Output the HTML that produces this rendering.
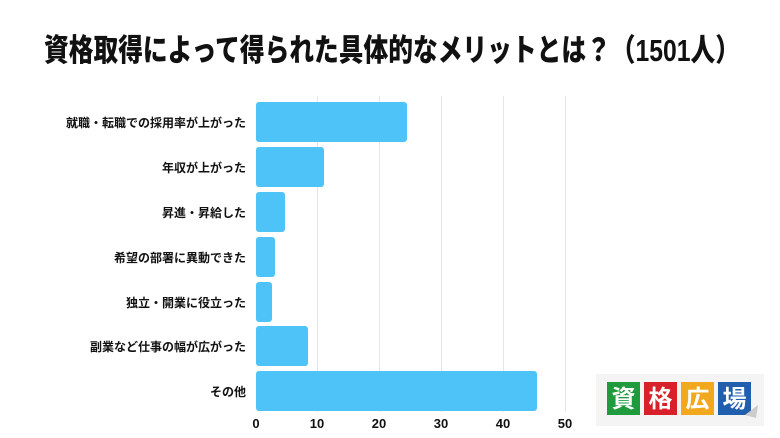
<!DOCTYPE html>
<html><head><meta charset="utf-8"><style>
html,body{margin:0;padding:0;background:#fff;}
body{width:780px;height:438px;overflow:hidden;position:relative;font-family:"Liberation Sans","Noto Sans CJK JP",sans-serif;}
</style></head><body>
<svg width="780" height="438" viewBox="0 0 780 438" xmlns="http://www.w3.org/2000/svg" style="position:absolute;left:0;top:0">
<text x="44" y="61" font-family="Liberation Sans, Noto Sans CJK JP, sans-serif" font-weight="900" font-size="31" fill="#111" textLength="696" lengthAdjust="spacingAndGlyphs">資格取得によって得られた具体的なメリットとは？（1501人）</text>
<g stroke="#e6e6e6" stroke-width="1">
<line x1="317.5" y1="96" x2="317.5" y2="412"/>
<line x1="379.5" y1="96" x2="379.5" y2="412"/>
<line x1="441.5" y1="96" x2="441.5" y2="412"/>
<line x1="503.5" y1="96" x2="503.5" y2="412"/>
<line x1="565.5" y1="96" x2="565.5" y2="412"/>
</g>
<g fill="#4dc3f8">
<rect x="256" y="102" width="151" height="40" rx="3"/>
<rect x="256" y="147" width="68" height="40" rx="3"/>
<rect x="256" y="192" width="29" height="40" rx="3"/>
<rect x="256" y="237" width="19" height="40" rx="3"/>
<rect x="256" y="282" width="16" height="40" rx="3"/>
<rect x="256" y="326" width="52" height="40" rx="3"/>
<rect x="256" y="371" width="281" height="40" rx="3"/>
</g>
<g font-family="Liberation Sans, Noto Sans CJK JP, sans-serif" font-weight="700" font-size="12" fill="#111" text-anchor="end">
<text x="246" y="127">就職・転職での採用率が上がった</text>
<text x="246" y="172">年収が上がった</text>
<text x="246" y="217">昇進・昇給した</text>
<text x="246" y="262">希望の部署に異動できた</text>
<text x="246" y="307">独立・開業に役立った</text>
<text x="246" y="351">副業など仕事の幅が広がった</text>
<text x="246" y="396">その他</text>
</g>
<g font-family="Liberation Sans, sans-serif" font-weight="700" font-size="13" fill="#111" text-anchor="middle">
<text x="256" y="428">0</text>
<text x="317" y="428">10</text>
<text x="379" y="428">20</text>
<text x="441" y="428">30</text>
<text x="503" y="428">40</text>
<text x="565" y="428">50</text>
</g>
<rect x="596" y="374" width="168" height="52" fill="#f4f4f4"/>
<rect x="607" y="382" width="33" height="33" fill="#1f9a3c"/>
<rect x="644" y="382" width="33" height="33" fill="#d8202a"/>
<rect x="681" y="382" width="33" height="33" fill="#f2a81d"/>
<rect x="718" y="382" width="33" height="33" fill="#1f5fae"/>
<polygon points="745,415 758,405 756,418" fill="#ccc"/>
<g font-family="Noto Sans CJK JP, sans-serif" font-weight="700" font-size="24" fill="#fff" text-anchor="middle">
<text x="623.5" y="407">資</text>
<text x="660.5" y="407">格</text>
<text x="697.5" y="407">広</text>
<text x="734.5" y="407">場</text>
</g>
</svg>
</body></html>
